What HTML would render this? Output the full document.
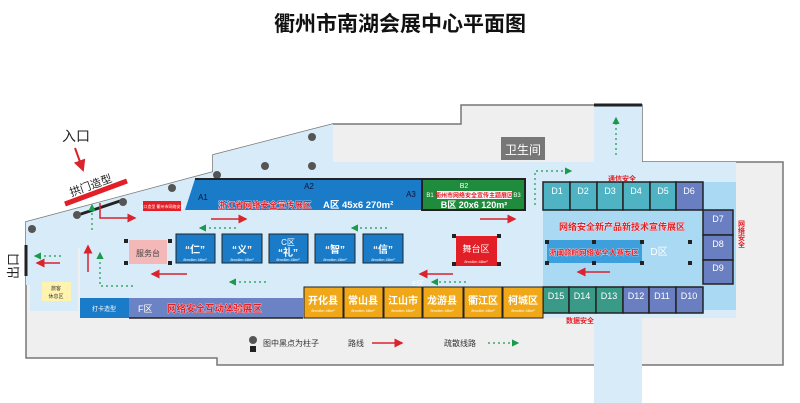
<!DOCTYPE html>
<html><head><meta charset="utf-8"><style>
html,body{margin:0;padding:0;background:#fff;}
svg{display:block;font-family:"Liberation Sans","Noto Sans CJK SC",sans-serif;}
</style></head><body>
<svg width="800" height="403" viewBox="0 0 800 403" xmlns="http://www.w3.org/2000/svg">
<defs>
<marker id="ar" markerWidth="6" markerHeight="6" refX="5" refY="3" orient="auto"><path d="M0,0 L6,3 L0,6z" fill="#d9232d"/></marker>
<marker id="ag" markerWidth="6" markerHeight="6" refX="5" refY="3" orient="auto"><path d="M0,0 L6,3 L0,6z" fill="#1a9a4a"/></marker>
</defs>
<text x="400" y="31" font-size="21" font-weight="bold" text-anchor="middle" fill="#111">衢州市南湖会展中心平面图</text>
<polygon points="26,222 213,172 213,155 333,124 461,124 461,105 642,105 642,162 783,162 783,365 217,365 217,358 26,358" fill="#efeff0" stroke="#777" stroke-width="1.5"/>
<polygon points="26,222 213,172 213,155 333,124 333,162 594,162 594,105 642,105 642,162 736,162 736,318 642,318 642,403 594,403 594,318 80,318 80,248 78,248 78,311 30,311 30,285 26,285" fill="#d7ecf8"/>
<rect x="543" y="182" width="193" height="128" fill="#a9d9f3"/>
<line x1="594" y1="105" x2="642" y2="105" stroke="#222" stroke-width="3"/>
<line x1="26" y1="245" x2="26" y2="276" stroke="#222" stroke-width="3"/>
<rect x="501" y="137" width="44" height="23" fill="#777"/>
<text x="523" y="154" font-size="12" fill="#fff" text-anchor="middle">卫生间</text>
<text x="62" y="141" font-size="14" fill="#222">入口</text>
<line x1="75" y1="148" x2="83" y2="170" stroke="#d9232d" stroke-width="2" marker-end="url(#ar)"/>
<text font-size="11" fill="#222" text-anchor="middle" transform="translate(92,189) rotate(-20)">拱门造型</text>
<line x1="65" y1="204" x2="127" y2="181" stroke="#e21e26" stroke-width="5"/>
<line x1="78" y1="215" x2="120" y2="201" stroke="#222" stroke-width="3"/>
<text font-size="13" fill="#222" text-anchor="middle" transform="translate(18,266) rotate(-90)">出口</text>
<g fill="#555"><circle cx="32" cy="229" r="4"/><circle cx="77" cy="215" r="4"/><circle cx="123" cy="202" r="4"/><circle cx="172" cy="188" r="4"/><circle cx="217" cy="175" r="4"/><circle cx="265" cy="166" r="4"/><circle cx="312" cy="166" r="4"/><circle cx="312" cy="137" r="4"/></g>
<rect x="143" y="201" width="38" height="10" fill="#e21e26"/>
<text x="162" y="208" font-size="4" fill="#fff" text-anchor="middle">入口造型 衢州市网络安全</text>
<polygon points="195,179 422,179 422,210 185,210" fill="#1a7cc9"/>
<line x1="195" y1="179" x2="422" y2="179" stroke="#222" stroke-width="2"/>
<text x="203" y="200" font-size="8" fill="#113" text-anchor="middle">A1</text>
<text x="309" y="189" font-size="8" fill="#113" text-anchor="middle">A2</text>
<text x="411" y="197" font-size="8" fill="#113" text-anchor="middle">A3</text>
<text x="218" y="208" font-size="8.5" font-weight="bold" fill="#e21e26" stroke="#fff" stroke-width="0.6" paint-order="stroke">浙江省网络安全宣传展区</text>
<text x="323" y="208" font-size="9.5" font-weight="bold" fill="#fff">A区 45x6 270m²</text>
<rect x="422" y="179" width="103" height="31" fill="#1e8c3c" stroke="#222" stroke-width="2"/>
<text x="464" y="188" font-size="7" fill="#fff" text-anchor="middle">B2</text>
<text x="430" y="197" font-size="6" fill="#fff" text-anchor="middle">B1</text>
<text x="517" y="197" font-size="6" fill="#fff" text-anchor="middle">B3</text>
<rect x="437" y="191" width="75" height="8" fill="#fff"/>
<text x="474" y="197.5" font-size="6" font-weight="bold" fill="#e21e26" text-anchor="middle">衢州市网络安全宣传主题展区</text>
<text x="474" y="208" font-size="9" font-weight="bold" fill="#fff" text-anchor="middle">B区 20x6 120m²</text>
<g stroke="#222" stroke-width="1.5">
<rect x="543" y="182" width="27" height="28" fill="#4fb3c4"/><rect x="570" y="182" width="27" height="28" fill="#4fb3c4"/><rect x="597" y="182" width="26" height="28" fill="#4fb3c4"/><rect x="623" y="182" width="27" height="28" fill="#4fb3c4"/><rect x="650" y="182" width="26" height="28" fill="#4fb3c4"/><rect x="676" y="182" width="27" height="28" fill="#6a7fc2"/>
<rect x="703" y="210" width="30" height="25" fill="#6a7fc2"/><rect x="703" y="235" width="30" height="25" fill="#6a7fc2"/><rect x="703" y="260" width="30" height="24" fill="#6a7fc2"/>
<rect x="543" y="287" width="26" height="26" fill="#3a9a88"/><rect x="569" y="287" width="27" height="26" fill="#3a9a88"/><rect x="596" y="287" width="27" height="26" fill="#3a9a88"/><rect x="623" y="287" width="26" height="26" fill="#6a7fc2"/><rect x="649" y="287" width="27" height="26" fill="#6a7fc2"/><rect x="676" y="287" width="27" height="26" fill="#6a7fc2"/>
</g>
<g font-size="9" fill="#fff" text-anchor="middle">
<text x="557" y="194">D1</text><text x="583" y="194">D2</text><text x="610" y="194">D3</text><text x="636" y="194">D4</text><text x="663" y="194">D5</text><text x="689" y="194">D6</text>
<text x="718" y="222">D7</text><text x="718" y="247">D8</text><text x="718" y="271">D9</text>
<text x="556" y="299">D15</text><text x="582" y="299">D14</text><text x="609" y="299">D13</text><text x="636" y="299">D12</text><text x="662" y="299">D11</text><text x="689" y="299">D10</text>
</g>
<text x="622" y="181" font-size="7" font-weight="bold" fill="#e21e26" text-anchor="middle">通信安全</text>
<text x="580" y="323" font-size="7" font-weight="bold" fill="#e21e26" text-anchor="middle">数据安全</text>
<text x="741" y="234" font-size="7" font-weight="bold" fill="#e21e26" text-anchor="middle" writing-mode="tb">网络安全</text>
<text x="622" y="230" font-size="9" font-weight="bold" fill="#e21e26" stroke="#fff" stroke-width="0.5" paint-order="stroke" text-anchor="middle">网络安全新产品新技术宣传展区</text>
<rect x="547" y="240" width="95" height="23" fill="#3d9fdc"/>
<text x="594" y="255" font-size="7.5" font-weight="bold" fill="#e21e26" stroke="#fff" stroke-width="0.5" paint-order="stroke" text-anchor="middle">浙闽赣皖网络安全大赛专区</text>
<text x="659" y="255" font-size="10" fill="#fff" text-anchor="middle">D区</text>
<g fill="#222"><rect x="545" y="240" width="4" height="4"/><rect x="592" y="240" width="4" height="4"/><rect x="640" y="240" width="4" height="4"/><rect x="545" y="261" width="4" height="4"/><rect x="592" y="261" width="4" height="4"/><rect x="640" y="261" width="4" height="4"/><rect x="688" y="240" width="4" height="4"/><rect x="688" y="261" width="4" height="4"/></g>
<rect x="456" y="236" width="41" height="30" fill="#e21e26"/>
<text x="476" y="252" font-size="9" fill="#fff" text-anchor="middle">舞台区</text>
<text x="476" y="263" font-size="4" fill="#fff" text-anchor="middle">8mx6m 48m²</text>
<g fill="#222"><rect x="452" y="234" width="4" height="4"/><rect x="497" y="234" width="4" height="4"/><rect x="452" y="262" width="4" height="4"/><rect x="497" y="262" width="4" height="4"/></g>
<g fill="#1a7cc9" stroke="#222" stroke-width="1">
<rect x="176" y="234" width="39" height="29"/><rect x="222" y="234" width="40" height="29"/><rect x="269" y="234" width="39" height="29"/><rect x="315" y="234" width="40" height="29"/><rect x="363" y="234" width="40" height="29"/>
</g>
<g fill="#fff" text-anchor="middle" font-weight="bold" font-size="10">
<text x="195" y="253">“仁”</text><text x="242" y="253">“义”</text><text x="288" y="245" font-size="8" font-weight="normal">C区</text><text x="288" y="256">“礼”</text><text x="335" y="253">“智”</text><text x="383" y="253">“信”</text>
</g>
<g fill="#fff" font-size="4" text-anchor="middle"><text x="195" y="261">8mx6m 48m²</text><text x="242" y="261">8mx6m 48m²</text><text x="288" y="261">8mx6m 48m²</text><text x="335" y="261">8mx6m 48m²</text><text x="383" y="261">8mx6m 48m²</text></g>
<rect x="129" y="240" width="38" height="24" fill="#f4b8b8"/>
<text x="148" y="256" font-size="8" fill="#444" text-anchor="middle">服务台</text>
<g fill="#222"><rect x="124" y="239" width="4" height="4"/><rect x="124" y="261" width="4" height="4"/><rect x="168" y="239" width="4" height="4"/><rect x="168" y="261" width="4" height="4"/></g>
<rect x="42" y="282" width="29" height="19" fill="#fff3b0"/>
<text x="56" y="290" font-size="5" fill="#333" text-anchor="middle">旅客</text>
<text x="56" y="298" font-size="5" fill="#333" text-anchor="middle">休息区</text>
<g fill="#f0a818" stroke="#222" stroke-width="1">
<rect x="304" y="287" width="39" height="31"/><rect x="344" y="287" width="39" height="31"/><rect x="384" y="287" width="38" height="31"/><rect x="423" y="287" width="40" height="31"/><rect x="464" y="287" width="38" height="31"/><rect x="503" y="287" width="40" height="31"/>
</g>
<g fill="#fff" font-weight="bold" font-size="10" text-anchor="middle">
<text x="323" y="304">开化县</text><text x="363" y="304">常山县</text><text x="403" y="304">江山市</text><text x="442" y="304">龙游县</text><text x="483" y="304">衢江区</text><text x="523" y="304">柯城区</text>
</g>
<g fill="#fff" font-size="4" text-anchor="middle"><text x="323" y="312">8mx6m 48m²</text><text x="363" y="312">8mx6m 48m²</text><text x="403" y="312">8mx6m 48m²</text><text x="442" y="312">8mx6m 48m²</text><text x="483" y="312">8mx6m 48m²</text><text x="523" y="312">8mx6m 48m²</text></g>
<text x="418" y="286" font-size="7" fill="#fff" text-anchor="middle">E区</text>
<rect x="80" y="298" width="49" height="20" fill="#1a7cc9"/>
<text x="104" y="311" font-size="6" fill="#fff" text-anchor="middle">打卡造型</text>
<rect x="129" y="298" width="174" height="20" fill="#6b83c4"/>
<line x1="129" y1="318" x2="303" y2="318" stroke="#222" stroke-width="1.5"/>
<text x="138" y="312" font-size="9" fill="#fff">F区</text>
<text x="167" y="312" font-size="9.5" font-weight="bold" fill="#e21e26" stroke="#fff" stroke-width="0.5" paint-order="stroke">网络安全互动体验展区</text>
<g stroke="#d9232d" stroke-width="1.5" fill="none" marker-end="url(#ar)">
<polyline points="100,203 100,218 135,218"/>
<line x1="211" y1="219" x2="246" y2="219"/>
<line x1="480" y1="219" x2="515" y2="219"/>
<line x1="187" y1="274" x2="152" y2="274"/>
<line x1="453" y1="274" x2="420" y2="274"/>
<line x1="610" y1="272" x2="578" y2="272"/>
<line x1="60" y1="263" x2="37" y2="263"/>
<line x1="88" y1="272" x2="88" y2="246"/>
</g>
<g stroke="#1a9a4a" stroke-width="1.2" fill="none" stroke-dasharray="2,3" marker-end="url(#ag)">
<line x1="92" y1="230" x2="92" y2="205"/>
<line x1="236" y1="228" x2="200" y2="228"/>
<line x1="387" y1="228" x2="352" y2="228"/>
<polyline points="133,286 100,286 100,253"/>
<line x1="61" y1="256" x2="35" y2="256"/>
<line x1="266" y1="282" x2="230" y2="282"/>
<line x1="466" y1="282" x2="432" y2="282"/>
<polyline points="535,205 535,171 571,171"/>
<line x1="616" y1="155" x2="616" y2="118"/>
</g>
<circle cx="253" cy="340" r="4" fill="#555"/>
<rect x="250" y="346" width="6" height="6" fill="#222"/>
<text x="263" y="346" font-size="8" fill="#333">图中黑点为柱子</text>
<text x="348" y="346" font-size="8" fill="#333">路线</text>
<line x1="372" y1="343" x2="402" y2="343" stroke="#d9232d" stroke-width="1.5" marker-end="url(#ar)"/>
<text x="444" y="346" font-size="8" fill="#333">疏散线路</text>
<line x1="488" y1="343" x2="518" y2="343" stroke="#1a9a4a" stroke-width="1.2" stroke-dasharray="2,3" marker-end="url(#ag)"/>
</svg>
</body></html>
